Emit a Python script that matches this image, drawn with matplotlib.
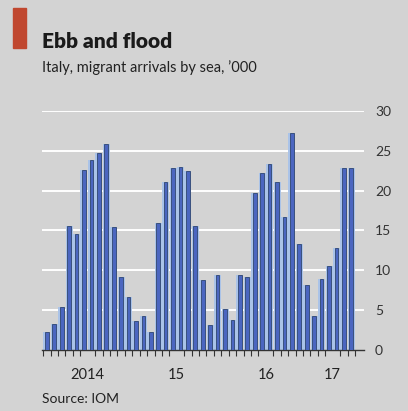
import matplotlib
matplotlib.use('Agg')
import matplotlib.pyplot as plt
import numpy as np

# Italy, migrant arrivals by sea ('000), monthly Jan 2014 - Jun 2017
arrivals_2014 = [2.2, 3.3, 5.4, 15.6, 14.5, 22.6, 23.8, 24.7, 25.9, 15.5, 9.2, 6.7]
arrivals_2015 = [3.6, 4.3, 2.3, 15.9, 21.1, 22.8, 23.0, 22.5, 15.6, 8.8, 3.2, 9.4]
arrivals_2016 = [5.2, 3.8, 9.4, 9.1, 19.7, 22.2, 23.3, 21.1, 16.7, 27.2, 13.3, 8.2]
arrivals_2017 = [4.3, 8.9, 10.6, 12.8, 22.9, 22.8]
year_labels = ['2014', '15', '16', '17']
y_ticks = [0, 5, 10, 15, 20, 25, 30]

values = arrivals_2014 + arrivals_2015 + arrivals_2016 + arrivals_2017
months = np.arange(len(values))
year_lengths = [len(arrivals_2014), len(arrivals_2015), len(arrivals_2016), len(arrivals_2017)]
year_starts = np.cumsum([0] + year_lengths[:-1])
year_centres = [s + (n - 1) / 2 for s, n in zip(year_starts, year_lengths)]

bg = '#d3d3d3'
fig = plt.figure(figsize=(4.08, 4.11), dpi=100, facecolor=bg)
ax = fig.add_axes([0.102, 0.1484, 0.79, 0.5816], facecolor=bg)

# white gridlines
for y in y_ticks[1:]:
    ax.axhline(y, color='white', lw=1.4, zorder=1)

# bars: light halo + darker core, like the printed chart
ax.bar(months, values, width=0.95, color='#aac3e8', zorder=2)
ax.bar(months, values, width=0.5, color='#4b66c0', edgecolor='#2f4670', lw=0.6, zorder=3)

ax.set_xlim(-0.7, 42.7)
ax.set_ylim(0, 30)

for side in ['left', 'right', 'top']:
    ax.spines[side].set_visible(False)
ax.spines['bottom'].set_color('#333333')
ax.spines['bottom'].set_linewidth(1.0)

ax.yaxis.tick_right()
ax.set_yticks(y_ticks)
ax.set_yticklabels([str(v) for v in y_ticks], fontsize=10, color='#333333', family='Lato')
ax.tick_params(axis='y', length=0, pad=8)

ax.set_xticks(year_centres)
ax.set_xticklabels(year_labels, fontsize=10.5, color='#222222', family='Lato')
ax.set_xticks(np.arange(len(values) + 1) - 0.5, minor=True)
ax.tick_params(axis='x', which='major', length=0, pad=13)
ax.tick_params(axis='x', which='minor', length=4, width=0.8, color='#333333')

# red tag, title, subtitle, source
fig.patches.append(plt.Rectangle((13 / 408, 1 - 48 / 411), 13 / 408, 40 / 411,
                                 transform=fig.transFigure, color='#c0472f'))
fig.text(42 / 408, 1 - 41 / 411, 'Ebb and flood', fontsize=15, fontweight='heavy',
         color='#1a1a1a', family='Lato', va='center')
fig.text(42 / 408, 1 - 68 / 411, 'Italy, migrant arrivals by sea, \u2019000', fontsize=10.5,
         color='#222222', family='Lato', va='center')
fig.text(42 / 408, 1 - 399 / 411, 'Source: IOM', fontsize=10, color='#222222',
         family='Lato', va='center')

fig.savefig('out.png', dpi=100, facecolor=bg)
